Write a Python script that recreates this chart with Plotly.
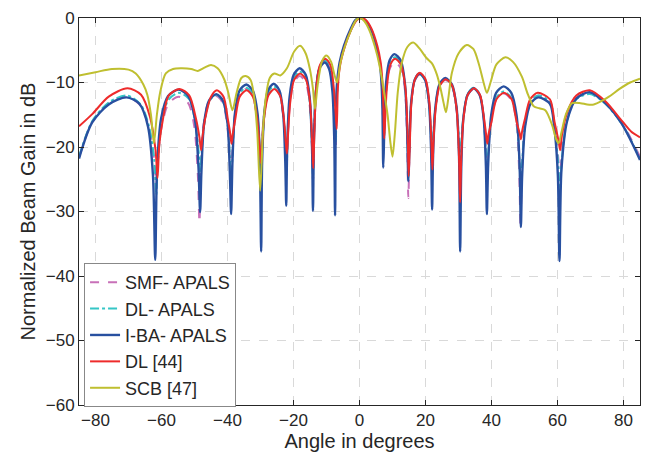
import plotly.graph_objects as go

# SMF- APALS
ang_smf = [-85, -81, -76, -70.5, -66.3, -63.8, -62.2, -61.6,
           -61.05, -59.9, -57.8, -54.8, -51.9, -50.1, -49.0, -48.5,
           -48.1, -47.25, -45.8, -43.5, -41.5, -40.1, -39.4, -39.0,
           -38.6, -37.85, -36.5, -34.4, -32.4, -31.1, -30.4, -30.0,
           -29.7, -29.0, -27.8, -26.0, -24.3, -23.1, -22.4, -22.1,
           -21.8, -21.1, -19.9, -18.1, -16.3, -15.1, -14.4, -14.1,
           -13.8, -13.2, -12.1, -10.5, -9.0, -8.0, -7.45, -7.2,
           -6.9, -6.5, -5.8, -4.5, -2.4, -1.0, 0.3, 1.7, 3.4, 5.2, 6.2, 6.7, 7.05, 7.3,
           7.6, 8.15, 9.2, 10.7, 12.5, 13.8, 14.45, 14.8,
           15.15, 15.65, 16.7, 18.2, 19.9, 21.05, 21.7, 22.0,
           22.3, 23.0, 24.2, 26.0, 28.0, 29.4, 30.15, 30.5,
           30.85, 31.5, 32.75, 34.6, 36.4, 37.6, 38.3, 38.6,
           39.0, 39.9, 41.4, 43.7, 46.0, 47.55, 48.4, 48.8,
           49.2, 50.1, 51.8, 54.2, 57.7, 59.0, 60.2, 60.7,
           61.3, 62.9, 65.7, 69.8, 74.5, 79.6, 85]
gain_smf = [-21.6, -16.1, -13.2, -12.2, -13.6, -17, -22, -26,
            -21.5, -16.7, -13.2, -12.2, -13.2, -16.7, -24.2, -31.7,
            -24, -16.6, -13.1, -12.1, -13.1, -16.6, -21.5, -25,
            -21, -15.5, -12, -11, -12, -15.5, -20, -24,
            -20, -15.3, -11.8, -10.8, -11.8, -15.3, -20, -24,
            -19.5, -13.5, -10, -9, -10, -13.5, -20, -25.3,
            -19, -11.3, -7.8, -6.8, -7.8, -11.3, -16.5, -20,
            -13, -9.4, -6.8, -4.3, -1.6, -0.3, 0, -0.3, -1.6, -4.4, -6.9, -9.6, -14, -20,
            -16, -11.3, -7.8, -6.8, -7.8, -11.3, -19.5, -27.9,
            -20.5, -13.3, -9.8, -8.8, -9.8, -13.3, -19.5, -24,
            -19.5, -14.1, -10.6, -9.6, -10.6, -14.1, -20, -24,
            -20, -15.5, -12, -11, -12, -15.5, -20.5, -24,
            -20.5, -16.2, -12.7, -11.7, -12.7, -16.2, -24, -32.4,
            -24, -16.5, -13, -12, -13, -16.5, -21.5, -25,
            -21, -15.6, -12.4, -11.6, -13.1, -16.3, -21.5]

# DL- APALS
ang_dla = [-85, -81, -76, -70.5, -66.3, -63.8, -62.2, -61.6,
           -61.05, -59.9, -57.8, -54.7, -51.6, -49.8, -48.7, -48.2,
           -47.8, -47.0, -45.5, -43.4, -41.4, -40.0, -39.3, -38.9,
           -38.5, -37.75, -36.4, -34.3, -32.3, -30.9, -30.2, -29.8,
           -29.5, -28.85, -27.7, -26.0, -24.3, -23.1, -22.4, -22.1,
           -21.8, -21.1, -19.9, -18.1, -16.3, -15.1, -14.4, -14.1,
           -13.8, -13.2, -12.1, -10.5, -9.0, -8.0, -7.45, -7.2,
           -6.9, -6.5, -5.8, -4.5, -2.4, -1.0, 0.3, 1.7, 3.4, 5.2, 6.2, 6.7, 7.05, 7.3,
           7.6, 8.15, 9.2, 10.7, 12.5, 13.8, 14.5, 14.8,
           15.1, 15.65, 16.7, 18.2, 19.9, 21.05, 21.7, 22.0,
           22.3, 23.0, 24.2, 26.0, 28.0, 29.4, 30.15, 30.5,
           30.85, 31.5, 32.75, 34.6, 36.4, 37.6, 38.3, 38.6,
           39.0, 39.9, 41.4, 43.7, 46.0, 47.6, 48.5, 48.9,
           49.3, 50.2, 51.8, 54.2, 57.7, 59.0, 60.2, 60.7,
           61.3, 62.9, 65.7, 69.8, 74.5, 79.6, 85]
gain_dla = [-21.5, -16, -13.1, -12.0, -13.4, -16.8, -22, -27.4,
            -22, -16.1, -12.6, -11.6, -12.6, -16.1, -21, -24,
            -20.5, -16.4, -12.9, -11.9, -12.9, -16.4, -21.5, -26,
            -21.5, -15.3, -11.8, -10.8, -11.8, -15.3, -20.5, -25,
            -20.5, -15.1, -11.6, -10.6, -11.6, -15.1, -20, -24.4,
            -19, -12.8, -9.3, -8.3, -9.3, -12.8, -19.5, -24.5,
            -18, -11.1, -7.6, -6.6, -7.6, -11.1, -16, -19.3,
            -13, -9.3, -6.7, -4.3, -1.6, -0.3, 0, -0.3, -1.6, -4.3, -6.8, -9.5, -14, -20.5,
            -16, -10.6, -7.1, -6.1, -7.1, -10.6, -18, -25,
            -19.5, -13.2, -9.7, -8.7, -9.7, -13.2, -18.5, -22,
            -18.5, -14, -10.5, -9.5, -10.5, -14, -19, -22,
            -19, -15.3, -11.8, -10.8, -11.8, -15.3, -21, -25,
            -21, -15.9, -12.4, -11.4, -12.4, -15.9, -22.5, -27,
            -22.5, -16.5, -13, -12, -13, -16.5, -22.5, -26.9,
            -22, -15.8, -12.6, -11.8, -13.3, -16.5, -21.8]

# I-BA- APALS
ang_iba = [-85, -81, -76, -70.6, -66.7, -64.1, -62.6, -61.9,
           -61.33, -60.13, -58.0, -54.8, -51.9, -49.9, -48.8, -48.3,
           -47.9, -47.1, -45.6, -43.4, -41.4, -40.0, -39.3, -38.9,
           -38.5, -37.75, -36.4, -34.3, -32.3, -30.9, -30.2, -29.8,
           -29.5, -28.85, -27.7, -26.0, -24.3, -23.15, -22.5, -22.2,
           -21.9, -21.2, -19.95, -18.1, -16.3, -15.1, -14.4, -14.1,
           -13.8, -13.2, -12.2, -10.6, -9.2, -8.2, -7.65, -7.4,
           -7.1, -6.7, -6.0, -4.7, -2.6, -1.2, 0.2, 1.6, 3.3, 5.1, 6.1, 6.6, 6.95, 7.2,
           7.5, 8.05, 9.1, 10.6, 12.5, 13.75, 14.45, 14.8,
           15.1, 15.65, 16.7, 18.2, 19.9, 21.05, 21.7, 22.0,
           22.3, 23.0, 24.2, 26.0, 28.0, 29.4, 30.15, 30.5,
           30.85, 31.5, 32.75, 34.6, 36.4, 37.6, 38.3, 38.6,
           39.0, 39.9, 41.4, 43.7, 46.0, 47.6, 48.5, 48.9,
           49.3, 50.2, 51.8, 54.2, 57.7, 59.0, 60.1, 60.6,
           61.2, 62.9, 65.7, 69.8, 74.5, 79.6, 85]
gain_iba = [-21.8, -16.2, -13.4, -12.3, -13.3, -16.8, -24.3, -37.5,
            -23.1, -15.6, -12.1, -11.1, -12.1, -15.6, -23.1, -30.1,
            -23.8, -16.3, -12.8, -11.8, -12.8, -16.3, -23.8, -30.4,
            -22.3, -14.8, -11.3, -10.3, -11.3, -14.8, -22.3, -36.2,
            -22.2, -14.7, -11.2, -10.2, -11.2, -14.7, -22.2, -29.1,
            -19.8, -12.3, -8.8, -7.8, -8.8, -12.3, -19.8, -29.9,
            -18.9, -11.4, -7.9, -6.9, -7.9, -11.4, -18.9, -30.6,
            -13, -9.5, -6.8, -4.3, -1.6, -0.3, 0, -0.3, -1.6, -4.3, -6.8, -9.5, -14, -23.2,
            -17.6, -10.1, -6.6, -5.6, -6.6, -10.1, -17.6, -25.3,
            -20.6, -13.1, -9.6, -8.6, -9.6, -13.1, -20.6, -29.7,
            -21.3, -13.8, -10.3, -9.3, -10.3, -13.8, -21.3, -36.2,
            -22.9, -15.4, -11.9, -10.9, -11.9, -15.4, -22.9, -30.4,
            -22.6, -15.1, -11.6, -10.6, -11.6, -15.1, -22.6, -32.4,
            -24.3, -16.8, -13.3, -12.3, -13.3, -16.8, -24.3, -37.7,
            -23.5, -16, -12.5, -11.5, -13.2, -16.5, -22]

# DL [44]
ang_dl44 = [-85, -81, -76, -70.3, -66.2, -63.5, -61.8, -61.2,
            -60.65, -59.5, -57.8, -54.5, -51.6, -49.6, -48.5, -48.0,
            -47.6, -46.8, -45.0, -43.2, -41.2, -39.9, -39.15, -38.8,
            -38.4, -37.65, -36.3, -34.2, -32.3, -31.0, -30.25, -29.9,
            -29.55, -28.9, -27.6, -25.8, -24.1, -22.95, -22.3, -22.0,
            -21.7, -21.0, -19.8, -18.0, -16.2, -15.0, -14.3, -14.0,
            -13.7, -13.1, -12.0, -10.4, -8.8, -7.8, -7.2, -6.9,
            -6.6, -6.2, -5.6, -4.3, -2.2, -0.8, 0.5, 1.9, 3.6, 5.4, 6.4, 6.9, 7.25, 7.5,
            7.8, 8.3, 9.3, 10.8, 12.6, 13.9, 14.6, 14.9,
            15.2, 15.75, 16.8, 18.3, 20.0, 21.15, 21.8, 22.1,
            22.4, 23.1, 24.3, 26.1, 28.1, 29.4, 30.15, 30.5,
            30.85, 31.55, 32.8, 34.7, 36.5, 37.7, 38.35, 38.7,
            39.1, 40.0, 41.5, 43.8, 46.1, 47.6, 48.5, 48.9,
            49.3, 50.2, 51.7, 54.0, 57.7, 59.1, 60.3, 60.8,
            61.4, 63.0, 65.7, 69.8, 74.5, 79.6, 82.3, 85]
gain_dl44 = [-16.8, -14.9, -12.2, -10.9, -11.9, -15.3, -20.5, -24.8,
             -19.5, -15.5, -12.0, -11.0, -12.0, -15.5, -18.5, -20.5,
             -18.5, -15.7, -12.2, -11.2, -12.2, -15.7, -18, -19.5,
             -18, -15.7, -12.2, -11.2, -12.2, -15.7, -20, -22.5,
             -20, -15.5, -12.0, -11.0, -12.0, -15.5, -19.5, -21,
             -18.5, -13.1, -9.6, -8.6, -9.6, -13.1, -20, -23.3,
             -18.3, -10.8, -7.3, -6.3, -7.3, -10.8, -15, -17.2,
             -11.5, -8.5, -6.6, -4.2, -1.5, -0.3, 0, -0.3, -1.6, -4.3, -6.8, -9.5, -14, -18.7,
             -15.5, -10.8, -7.3, -6.3, -7.3, -10.8, -18.3, -24.5,
             -20.5, -13, -9.5, -8.5, -9.5, -13, -19.5, -23.5,
             -19.5, -14, -10.5, -9.5, -10.5, -14, -21.5, -28.6,
             -21.5, -15.4, -11.9, -10.9, -11.9, -15.4, -18, -19.5,
             -18, -16.1, -12.6, -11.6, -12.6, -16.1, -17.8, -18.8,
             -17.5, -15.5, -12.6, -11.6, -12.6, -16.1, -19, -20.5,
             -18, -14.5, -12, -11.2, -12.9, -16.0, -17.6, -18.5]

# SCB [47]
ang_scb = [-85, -80, -75, -70, -67.8, -65.5, -64.3, -63.2, -62.3, -61.4, -60.4, -58.7,
           -56.5, -54, -51, -49, -47, -45, -43, -41, -39.8, -38.5, -37.2, -35.8,
           -34.5, -33, -32, -31, -30.1, -29.2, -28.3, -27.2, -25.8, -24, -22, -19.8,
           -18, -16.3, -15, -14.1, -13.5, -12.7, -11.3, -10, -8.6, -7.6, -6.8, -5.8,
           -4.5, -2.5, -1, 0.2, 1.5, 3, 4.7, 6, 7.3, 8.5, 9.3, 10.0,
           10.7, 11.6, 12.8, 14.5, 16.3, 18.3, 20.3, 21.9, 23.4, 24.6, 25.5, 26.2,
           26.9, 28, 30, 32.5, 34.5, 36.2, 37.6, 38.6, 39.7, 41.5, 44.2, 46.5,
           49.2, 51, 52.8, 54.5, 56.3, 58.3, 59.6, 60.3, 61.3, 62.5, 64.4, 67,
           69, 71, 73.3, 75.6, 78.8, 82, 85]
gain_scb = [-8.9, -8.4, -7.9, -8.0, -8.6, -10.3, -11.9, -15, -19.4, -15, -11.5, -8.6,
            -7.9, -7.8, -7.9, -8.2, -7.7, -7.3, -7.8, -9.5, -11.5, -14.3, -11.5, -9.3,
            -9.0, -9.6, -12, -17.5, -26.8, -17, -12, -9.3, -8.6, -8.9, -7.8, -5.2,
            -4.3, -5.5, -8, -11, -14.1, -10.5, -6.6, -5.8, -6.8, -8.8, -10.0, -7,
            -4.5, -1.8, -0.3, 0, -0.5, -1.9, -4.5, -7.2, -11, -15, -19, -21.5,
            -18, -11.5, -7, -4.5, -3.8, -4.8, -6.2, -7.0, -8.7, -11, -13.2, -14.6,
            -12.5, -8.5, -5.5, -4.2, -4.8, -7.2, -10.0, -11.6, -10, -7.2, -6.1, -6.8,
            -9.1, -11.8, -13.7, -14.0, -14.3, -16.5, -18.8, -19.4, -17.5, -15, -13.2, -13.2,
            -13.4, -13.4, -12.9, -12.2, -11.0, -10.0, -9.4]

x_ticks = [-80, -60, -40, -20, 0, 20, 40, 60, 80]
y_ticks = [0, -10, -20, -30, -40, -50, -60]

series = [
    ("SMF- APALS", ang_smf, gain_smf, "#c870b8", "dash", 2),
    ("DL- APALS", ang_dla, gain_dla, "#35c6c6", "dashdot", 2),
    ("I-BA- APALS", ang_iba, gain_iba, "#2850a0", "solid", 2.4),
    ("DL [44]", ang_dl44, gain_dl44, "#ee2b2b", "solid", 2),
    ("SCB [47]", ang_scb, gain_scb, "#bfbf30", "solid", 2),
]

fig = go.Figure()
for name, xs, ys, col, dash, w in series:
    fig.add_trace(go.Scatter(x=xs, y=ys, name=name, mode="lines",
                             line=dict(color=col, dash=dash, width=w, shape="spline", smoothing=0.8)))

axis_common = dict(showgrid=True, gridcolor="#d9d9d9", griddash="dash", gridwidth=1,
                   showline=True, linecolor="#262626", linewidth=1, mirror="ticks",
                   ticks="inside", ticklen=5, tickcolor="#262626", zeroline=False,
                   automargin=False, tickfont=dict(size=17, color="#262626"))

fig.update_xaxes(range=[-85, 85], tickvals=x_ticks, **axis_common,
                 title=dict(text="Angle in degrees", font=dict(size=20, color="#262626"), standoff=0))
fig.update_yaxes(range=[-60, 0], tickvals=y_ticks, **axis_common,
                 title=dict(text="Normalized Beam Gain in dB", font=dict(size=20, color="#262626"), standoff=4))

# page body adds an 8px offset, so margins are shifted to compensate
fig.update_layout(
    width=657, height=458,
    margin=dict(l=71, r=25, t=10, b=61),
    plot_bgcolor="white", paper_bgcolor="white",
    font=dict(family="Liberation Sans, Arial, sans-serif", color="#262626"),
    legend=dict(x=0.009, y=0.367, xanchor="left", yanchor="top",
                bgcolor="white", bordercolor="#888888", borderwidth=1,
                font=dict(size=18, color="#262626"), tracegroupgap=0),
)

fig.write_html("out.html")
